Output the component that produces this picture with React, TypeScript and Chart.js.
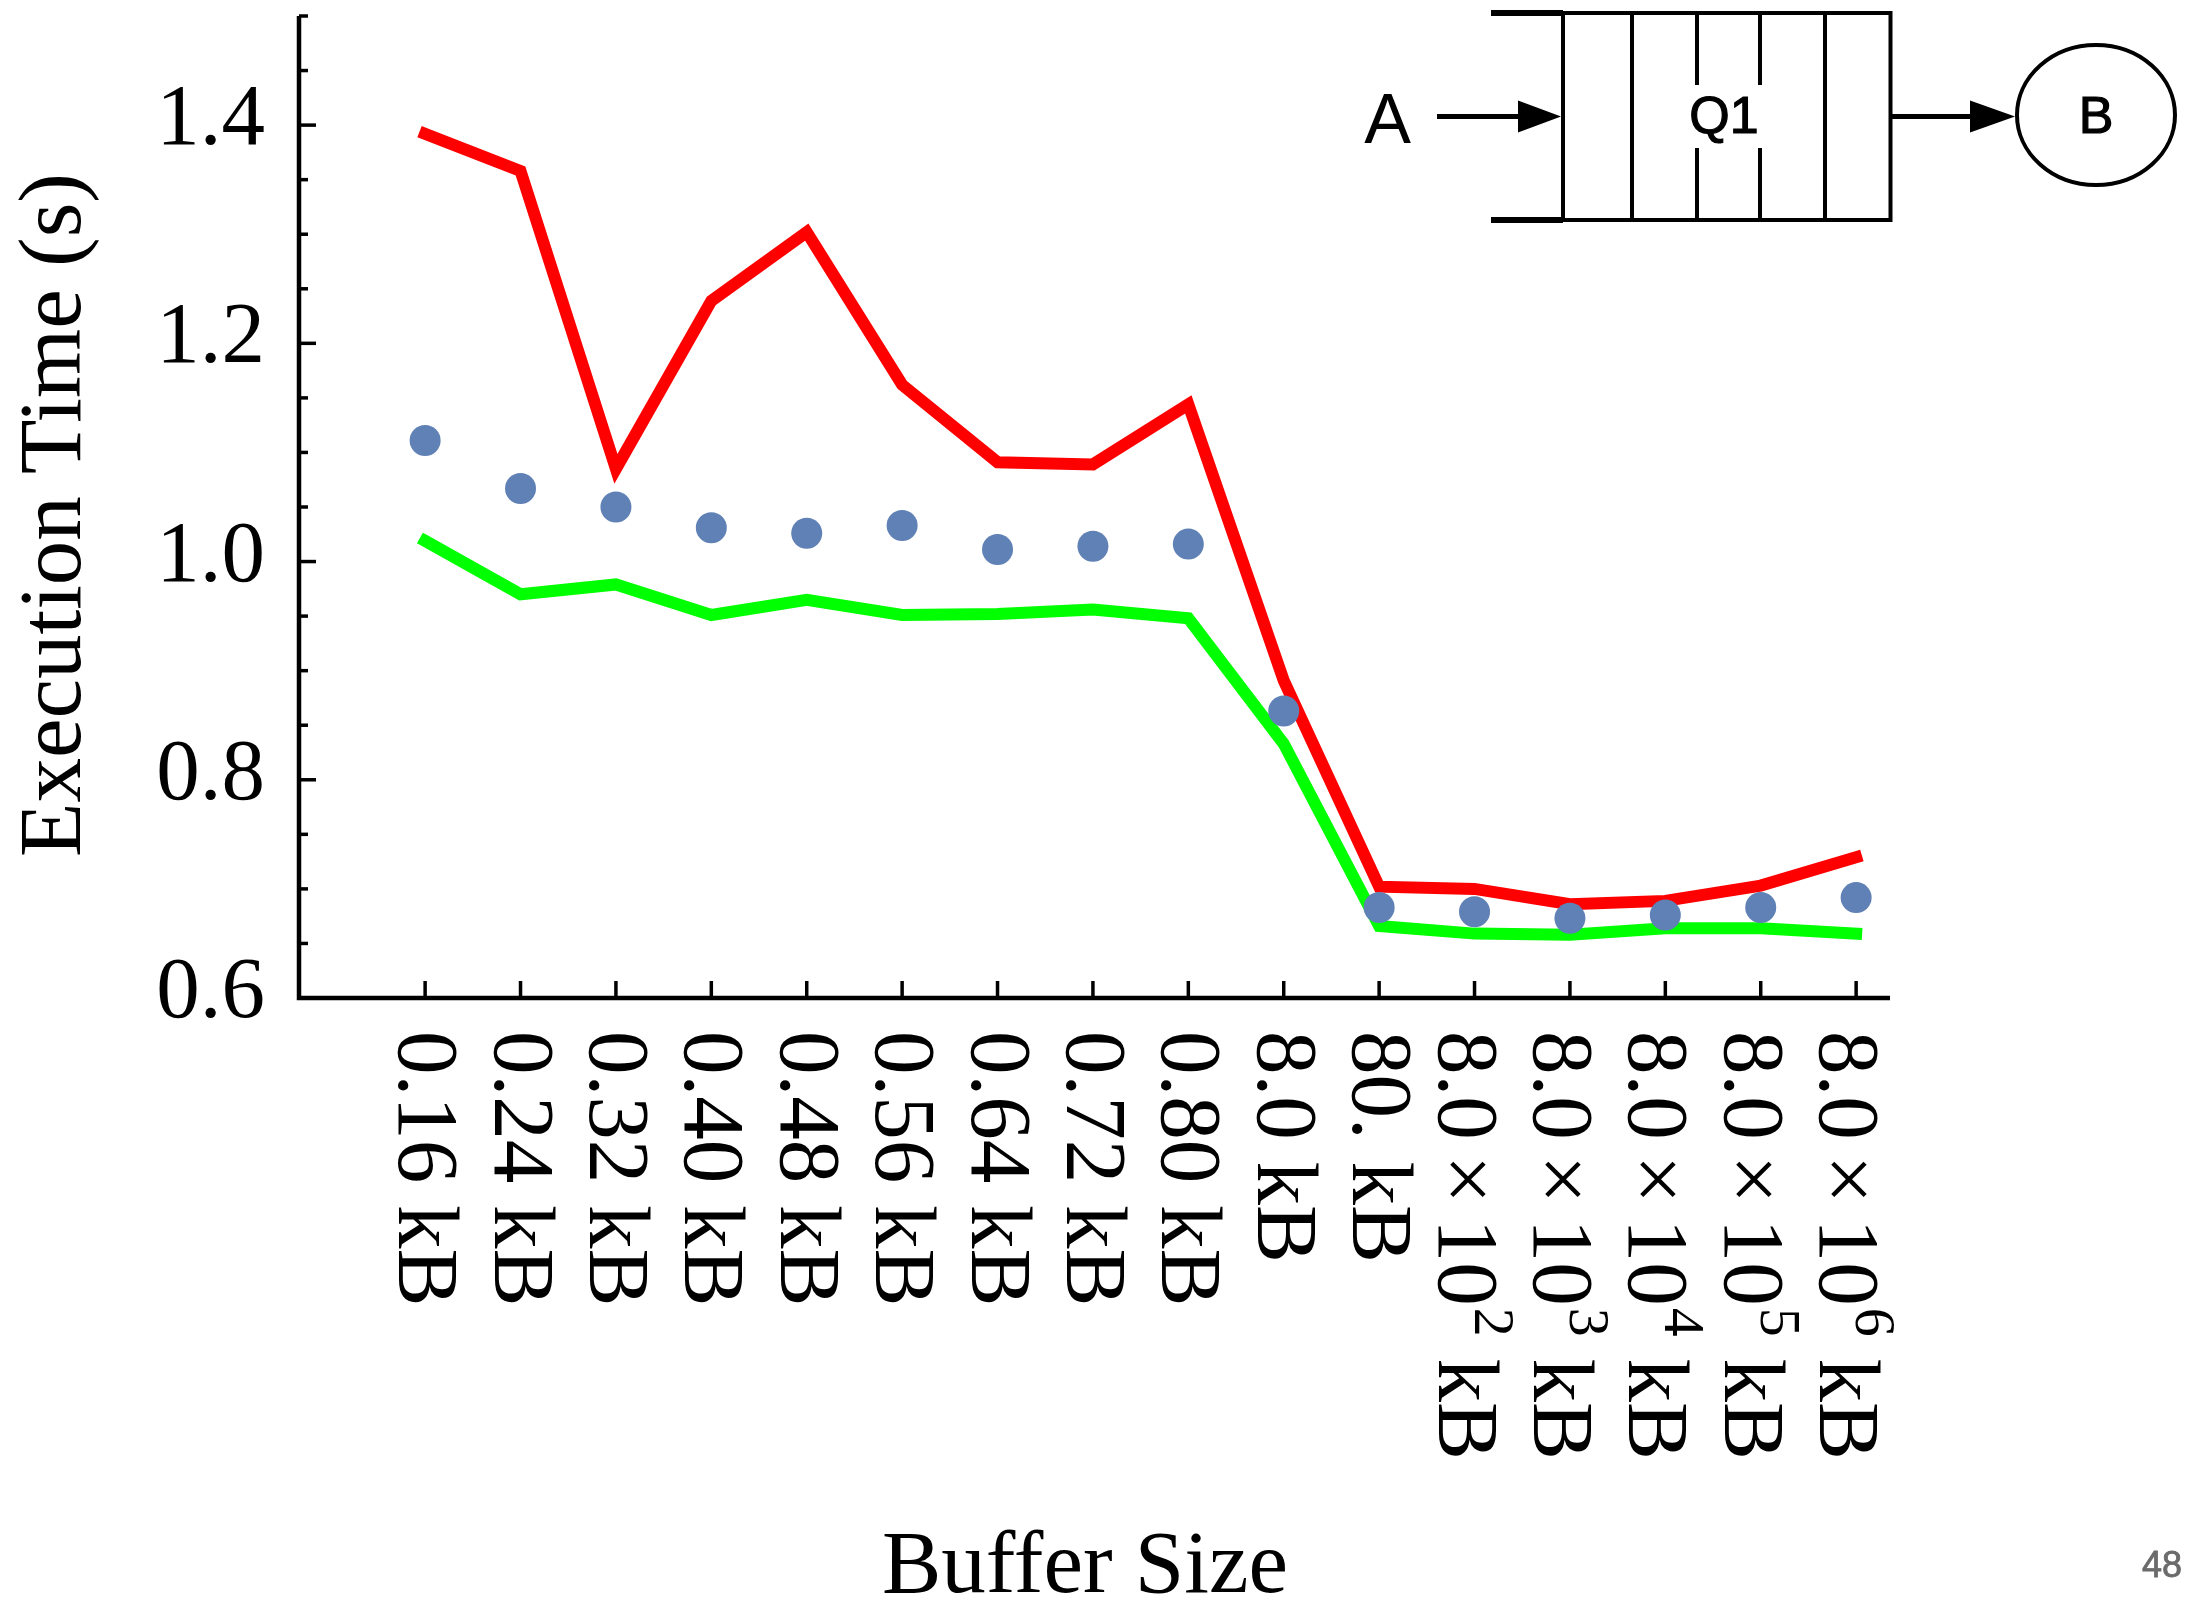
import React, { useEffect, useRef } from "react";
import { Chart, registerables } from "chart.js";

Chart.register(...registerables);

// Buffer sizes along the x axis: mantissa, optional power of ten, unit
const sizeMantissas = [
  "0.16", "0.24", "0.32", "0.40", "0.48", "0.56", "0.64", "0.72", "0.80",
  "8.0", "80.", "8.0", "8.0", "8.0", "8.0", "8.0",
];
const sizeExponents = ["", "", "", "", "", "", "", "", "", "", "", "2", "3", "4", "5", "6"];
const sizeUnit = "kB";

// Execution times in seconds
const maxTimes = [
  1.392, 1.358, 1.085, 1.239, 1.302, 1.162, 1.091, 1.089, 1.144,
  0.891, 0.702, 0.700, 0.686, 0.689, 0.703, 0.729,
];
const minTimes = [
  1.019, 0.970, 0.979, 0.951, 0.965, 0.951, 0.952, 0.956, 0.948,
  0.833, 0.666, 0.659, 0.658, 0.664, 0.664, 0.659,
];
const meanTimes = [
  1.111, 1.067, 1.050, 1.031, 1.026, 1.033, 1.011, 1.014, 1.016,
  0.863, 0.683, 0.679, 0.673, 0.676, 0.683, 0.692,
];

const yMajorTicks = [0.6, 0.8, 1.0, 1.2, 1.4];
const yMin = 0.6;
const yMax = 1.5;
const yMinorStep = 0.05;
const xMin = -1.322;
const xMax = 15.355;

const yTitle = "Execution Time (s)";
const xTitle = "Buffer Size";
const pageNumber = "48";

const W = 2197;
const H = 1600;
const SERIF = '"Liberation Serif", "Times New Roman", serif';
const SANS = '"Liberation Sans", Arial, Helvetica, sans-serif';

function line(ctx: CanvasRenderingContext2D, x1: number, y1: number, x2: number, y2: number) {
  ctx.beginPath();
  ctx.moveTo(x1, y1);
  ctx.lineTo(x2, y2);
  ctx.stroke();
}

function arrowHead(ctx: CanvasRenderingContext2D, baseX: number, tipX: number, y: number, half: number) {
  ctx.beginPath();
  ctx.moveTo(baseX, y - half);
  ctx.lineTo(tipX, y);
  ctx.lineTo(baseX, y + half);
  ctx.closePath();
  ctx.fill();
}

// Axes, ticks, labels, titles and the queue sketch
const framePlugin = {
  id: "frame",
  afterDraw(chart: any) {
    const { ctx, chartArea: a, scales } = chart;
    const xs = scales.x;
    const ys = scales.y;
    ctx.save();
    ctx.strokeStyle = "#000";
    ctx.fillStyle = "#000";
    ctx.lineCap = "butt";

    // axis lines
    ctx.lineWidth = 4.5;
    ctx.beginPath();
    ctx.moveTo(a.left, a.top);
    ctx.lineTo(a.left, a.bottom);
    ctx.lineTo(a.right, a.bottom);
    ctx.stroke();

    // y ticks (inward), major every 0.2, minor every 0.05
    ctx.lineWidth = 3.5;
    const steps = Math.round((yMax - yMin) / yMinorStep);
    for (let k = 1; k <= steps; k++) {
      const v = yMin + k * yMinorStep;
      const isMajor = yMajorTicks.some((t) => Math.abs(t - v) < 1e-6);
      const py = ys.getPixelForValue(v);
      line(ctx, a.left, py, a.left + (isMajor ? 17 : 9), py);
    }

    // y tick labels
    ctx.font = `87px ${SERIF}`;
    ctx.textAlign = "right";
    ctx.textBaseline = "alphabetic";
    yMajorTicks.forEach((t) => {
      const py = ys.getPixelForValue(t);
      ctx.fillText(t.toFixed(1), a.left - 34, py + 19);
    });

    // x ticks (inward)
    ctx.lineWidth = 3.5;
    sizeMantissas.forEach((_, i) => {
      const px = xs.getPixelForValue(i);
      line(ctx, px, a.bottom, px, a.bottom - 17);
    });

    // x tick labels, turned to read downward
    sizeMantissas.forEach((m, i) => {
      const px = xs.getPixelForValue(i);
      const exp = sizeExponents[i];
      ctx.save();
      ctx.translate(px - (exp ? 36 : 26), a.bottom + 33);
      ctx.rotate(Math.PI / 2);
      ctx.textAlign = "left";
      ctx.textBaseline = "alphabetic";
      ctx.font = `87px ${SERIF}`;
      let cx = 0;
      if (exp) {
        const gap = 15;
        ctx.fillText(m, cx, 0);
        cx += ctx.measureText(m).width + gap;
        ctx.fillText("\u00d7", cx, 0);
        cx += ctx.measureText("\u00d7").width + gap;
        ctx.fillText("10", cx, 0);
        cx += ctx.measureText("10").width + 2;
        ctx.font = `58px ${SERIF}`;
        ctx.fillText(exp, cx, -36);
        cx += ctx.measureText(exp).width;
        ctx.font = `87px ${SERIF}`;
        ctx.fillText(" " + sizeUnit, cx, 0);
      } else {
        ctx.fillText(m + " " + sizeUnit, cx, 0);
      }
      ctx.restore();
    });

    // axis titles
    ctx.font = `89px ${SERIF}`;
    ctx.textAlign = "center";
    ctx.textBaseline = "alphabetic";
    ctx.fillText(xTitle, 1085, 1592);
    ctx.save();
    ctx.translate(80, 515);
    ctx.rotate(-Math.PI / 2);
    ctx.fillText(yTitle, 0, 0);
    ctx.restore();

    // queue sketch: A -> [Q1] -> (B)
    ctx.lineWidth = 6;
    line(ctx, 1491, 13, 1563, 13);
    line(ctx, 1491, 220, 1563, 220);
    ctx.lineWidth = 4;
    ctx.strokeRect(1563, 13, 1890.5 - 1563, 220 - 13);
    line(ctx, 1632, 13, 1632, 220);
    line(ctx, 1825, 13, 1825, 220);
    line(ctx, 1697, 13, 1697, 85);
    line(ctx, 1697, 148, 1697, 220);
    line(ctx, 1760, 13, 1760, 85);
    line(ctx, 1760, 148, 1760, 220);

    ctx.lineWidth = 5;
    line(ctx, 1437, 116.5, 1522, 116.5);
    arrowHead(ctx, 1518, 1561, 116.5, 16);
    line(ctx, 1890.5, 116.5, 1974, 116.5);
    arrowHead(ctx, 1970, 2015, 116.5, 16);

    ctx.lineWidth = 4;
    ctx.beginPath();
    ctx.ellipse(2096, 115, 79, 70, 0, 0, Math.PI * 2);
    ctx.stroke();

    ctx.textAlign = "center";
    ctx.font = `70px ${SANS}`;
    ctx.fillText("A", 1387.5, 143);
    ctx.font = `52px ${SANS}`;
    ctx.lineWidth = 1.2;
    ctx.fillText("Q1", 1724, 133);
    ctx.strokeText("Q1", 1724, 133);
    ctx.fillText("B", 2096, 133);
    ctx.strokeText("B", 2096, 133);

    // page number
    ctx.font = `36px ${SANS}`;
    ctx.fillStyle = "#6b6b6b";
    ctx.strokeStyle = "#6b6b6b";
    ctx.lineWidth = 0.8;
    ctx.textAlign = "right";
    ctx.fillText(pageNumber, 2182, 1577);
    ctx.strokeText(pageNumber, 2182, 1577);

    ctx.restore();
  },
};

const toPoints = (values: number[]) => values.map((y, i) => ({ x: i, y }));

export default function App() {
  const canvasRef = useRef<HTMLCanvasElement>(null);

  useEffect(() => {
    const prevMargin = document.body.style.margin;
    const prevOverflow = document.body.style.overflow;
    document.body.style.margin = "0";
    document.body.style.overflow = "hidden";

    const chart = new Chart(canvasRef.current as HTMLCanvasElement, {
      type: "line",
      data: {
        datasets: [
          {
            label: "mean",
            data: toPoints(meanTimes),
            showLine: false,
            pointRadius: 15.5,
            pointBackgroundColor: "#5f81b5",
            pointBorderWidth: 0,
            order: 0,
          },
          {
            label: "min",
            data: toPoints(minTimes),
            borderColor: "#00ff00",
            borderWidth: 12,
            borderCapStyle: "square",
            borderJoinStyle: "miter",
            pointRadius: 0,
            tension: 0,
            fill: false,
            order: 1,
          },
          {
            label: "max",
            data: toPoints(maxTimes),
            borderColor: "#ff0000",
            borderWidth: 12,
            borderCapStyle: "square",
            borderJoinStyle: "miter",
            pointRadius: 0,
            tension: 0,
            fill: false,
            order: 2,
          },
        ],
      },
      options: {
        responsive: false,
        animation: false,
        devicePixelRatio: 1,
        events: [],
        layout: { padding: { left: 299, right: W - 1890, top: 16, bottom: H - 998 } },
        scales: {
          x: { type: "linear", min: xMin, max: xMax, display: false },
          y: { type: "linear", min: yMin, max: yMax, display: false },
        },
        plugins: { legend: { display: false }, tooltip: { enabled: false } },
      },
      plugins: [framePlugin],
    } as any);

    return () => {
      chart.destroy();
      document.body.style.margin = prevMargin;
      document.body.style.overflow = prevOverflow;
    };
  }, []);

  return (
    <div style={{ position: "relative", width: W, height: H, background: "#fff", overflow: "hidden" }}>
      <canvas ref={canvasRef} width={W} height={H} style={{ display: "block", width: W, height: H }} />
    </div>
  );
}
